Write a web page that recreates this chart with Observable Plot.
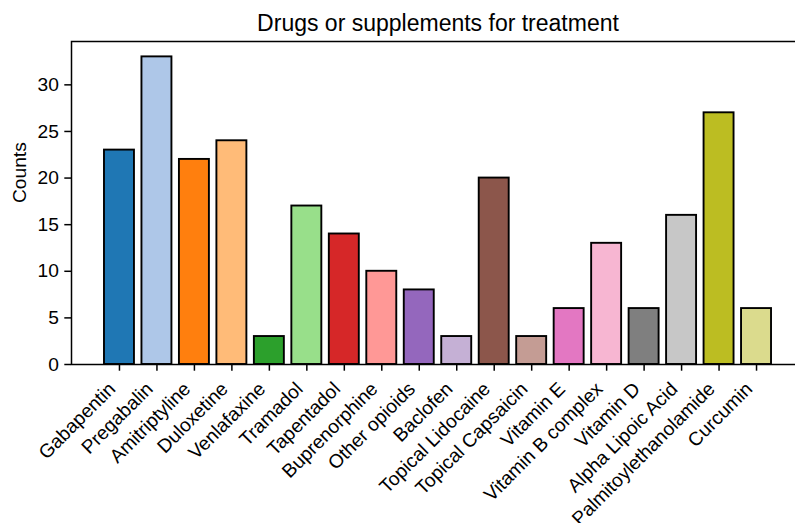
<!DOCTYPE html>
<html>
<head>
<meta charset="utf-8">
<script src="https://cdn.jsdelivr.net/npm/d3@7"></script>
<script src="https://cdn.jsdelivr.net/npm/@observablehq/plot@0.6"></script>
<style>
html, body { margin: 0; padding: 0; background: #fff; overflow: hidden; width: 795px; height: 523px; }
#chart svg { max-width: none !important; display: block; }
</style>
</head>
<body>
<div id="chart"></div>
<script>
const categories = ["Gabapentin", "Pregabalin", "Amitriptyline", "Duloxetine", "Venlafaxine", "Tramadol", "Tapentadol", "Buprenorphine", "Other opioids", "Baclofen", "Topical Lidocaine", "Topical Capsaicin", "Vitamin E", "Vitamin B complex", "Vitamin D", "Alpha Lipoic Acid", "Palmitoylethanolamide", "Curcumin"];
const counts = [23, 33, 22, 24, 3, 17, 14, 10, 8, 3, 20, 3, 6, 13, 6, 16, 27, 6];
const colors = ["#1f77b4", "#aec7e8", "#ff7f0e", "#ffbb78", "#2ca02c", "#98df8a", "#d62728", "#ff9896", "#9467bd", "#c5b0d5", "#8c564b", "#c49c94", "#e377c2", "#f7b6d2", "#7f7f7f", "#c7c7c7", "#bcbd22", "#dbdb8d"];
const yTicks = [0, 5, 10, 15, 20, 25, 30];
const title = "Drugs or supplements for treatment";
const yLabel = "Counts";

const data = categories.map((c, i) => ({category: c, count: counts[i], color: colors[i]}));

const chart = Plot.plot({
  width: 805,
  height: 523,
  marginLeft: 71,
  marginRight: 1,
  marginTop: 41,
  marginBottom: 159,
  style: {fontFamily: "'Liberation Sans', Arial, sans-serif", fontSize: "19.2px", background: "#fff", color: "#000", overflow: "visible", maxWidth: "none"},
  x: {domain: categories, paddingInner: 0.2, paddingOuter: 0.88, align: 0.5, round: false, axis: null},
  y: {domain: [0, 34.65], axis: null},
  color: {type: "identity"},
  marks: [
    Plot.barY(data, {x: "category", y: "count", fill: "color", stroke: "#000", strokeWidth: 1.9}),
    Plot.frame({stroke: "#000", strokeWidth: 1.5}),
    Plot.axisY({ticks: yTicks, tickSize: 6.7, tickPadding: 6, fontSize: 19.2, label: null, strokeWidth: 1.5}),
    Plot.axisX({tickSize: 6.7, tickFormat: () => "", label: null, strokeWidth: 1.5}),
    Plot.text(categories, {x: d => d, frameAnchor: "bottom", text: d => d, rotate: -45, textAnchor: "end", lineAnchor: "bottom", dx: -2.9, dy: 25.6, fontSize: 19.2}),
    Plot.text([yLabel], {frameAnchor: "left", dx: -46, rotate: -90, lineAnchor: "bottom", fontSize: 19.2}),
    Plot.text([title], {frameAnchor: "top", dy: -11, lineAnchor: "bottom", fontSize: 23})
  ]
});
document.getElementById("chart").appendChild(chart);
</script>
</body>
</html>
